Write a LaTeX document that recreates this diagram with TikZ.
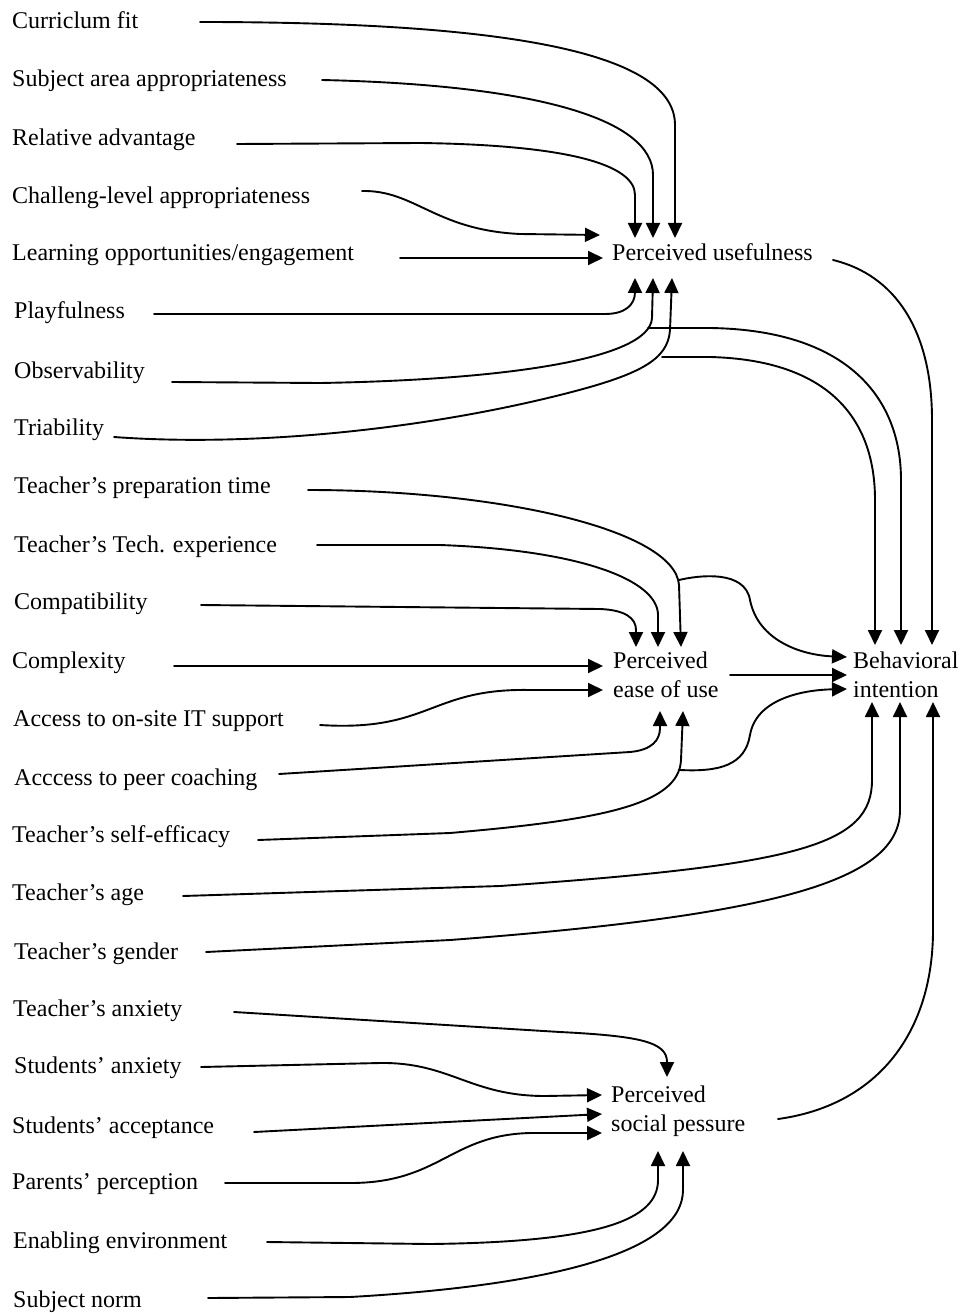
\documentclass[tikz,border=0pt]{standalone}
\usepackage{fontspec}
\setmainfont{Liberation Serif}
\usetikzlibrary{arrows.meta,calc}
\begin{document}
\begin{tikzpicture}[x=1pt,y=-1pt,
  lbl/.style={anchor=base west,inner sep=0pt,font=\fontsize{24}{29}\selectfont},
  wire/.style={line width=1.9pt,line cap=round},
  link/.style={wire,-{Triangle[length=15pt,width=14pt]}},
]
\useasboundingbox (0,0) rectangle (963,1313);

% factor labels
\node[lbl] (n1)  at (12,29)   {Curriclum fit};
\node[lbl] (n2)  at (12,87)   {Subject area appropriateness};
\node[lbl] (n3)  at (12,146)  {Relative advantage};
\node[lbl] (n4)  at (12,204)  {Challeng-level appropriateness};
\node[lbl] (n5)  at (12,261)  {Learning opportunities/engagement};
\node[lbl] (n6)  at (14,319)  {Playfulness};
\node[lbl] (n7)  at (14,378)  {Observability};
\node[lbl] (n8)  at (14,435)  {Triability};
\node[lbl] (n9)  at (14,493)  {Teacher's preparation time};
\node[lbl] (n10) at (14,552)  {Teacher's Tech. experience};
\node[lbl] (n11) at (14,609)  {Compatibility};
\node[lbl] (n12) at (12,668)  {Complexity};
\node[lbl] (n13) at (13,726)  {Access to on-site IT support};
\node[lbl] (n14) at (14,785)  {Acccess to peer coaching};
\node[lbl] (n15) at (12,842)  {Teacher's self-efficacy};
\node[lbl] (n16) at (12,900)  {Teacher's age};
\node[lbl] (n17) at (14,959)  {Teacher's gender};
\node[lbl] (n18) at (13,1016) {Teacher's anxiety};
\node[lbl] (n19) at (14,1073) {Students' anxiety};
\node[lbl] (n20) at (12,1133) {Students' acceptance};
\node[lbl] (n21) at (12,1189) {Parents' perception};
\node[lbl] (n22) at (13,1248) {Enabling environment};
\node[lbl] (n23) at (13,1307) {Subject norm};

% constructs
\node[lbl] (pu)   at (612,261)  {Perceived usefulness};
\node[lbl] (peou) at (613,668)  {\begin{tabular}[t]{@{}l@{}}Perceived\\ease of use\end{tabular}};
\node[lbl] (psp)  at (611,1102) {\begin{tabular}[t]{@{}l@{}}Perceived\\social pessure\end{tabular}};
\node[lbl] (bi)   at (853,668)  {\begin{tabular}[t]{@{}l@{}}Behavioral\\intention\end{tabular}};

% arrow ports around the constructs
\coordinate (pu-t1) at ($(pu.base west)+(23,-23)$);
\coordinate (pu-t2) at ($(pu.base west)+(41,-23)$);
\coordinate (pu-t3) at ($(pu.base west)+(63,-23)$);
\coordinate (pu-l1) at ($(pu.base west)+(-12,-26)$);
\coordinate (pu-l2) at ($(pu.base west)+(-9,-3)$);
\coordinate (pu-b1) at ($(pu.base west)+(23,17)$);
\coordinate (pu-b2) at ($(pu.base west)+(41,17)$);
\coordinate (pu-b3) at ($(pu.base west)+(60,17)$);
\coordinate (pu-r)  at ($(pu.base west)+(221,-1)$);

\coordinate (peou-t1) at ($(peou.base west)+(23,-21)$);
\coordinate (peou-t2) at ($(peou.base west)+(45,-21)$);
\coordinate (peou-t3) at ($(peou.base west)+(68,-21)$);
\coordinate (peou-l1) at ($(peou.base west)+(-10,-2)$);
\coordinate (peou-l2) at ($(peou.base west)+(-10,22)$);
\coordinate (peou-b1) at ($(peou.base west)+(47,43)$);
\coordinate (peou-b2) at ($(peou.base west)+(70,43)$);
\coordinate (peou-r)  at ($(peou.base west)+(117,7)$);

\coordinate (bi-t1) at ($(bi.base west)+(22,-23)$);
\coordinate (bi-t2) at ($(bi.base west)+(48,-23)$);
\coordinate (bi-t3) at ($(bi.base west)+(79,-23)$);
\coordinate (bi-l1) at ($(bi.base west)+(-6,-11)$);
\coordinate (bi-l2) at ($(bi.base west)+(-6,7)$);
\coordinate (bi-l3) at ($(bi.base west)+(-6,21)$);
\coordinate (bi-b1) at ($(bi.base west)+(19,34)$);
\coordinate (bi-b2) at ($(bi.base west)+(47,34)$);
\coordinate (bi-b3) at ($(bi.base west)+(80,34)$);

\coordinate (psp-t)  at ($(psp.base west)+(56,-25)$);
\coordinate (psp-l1) at ($(psp.base west)+(-9,-7)$);
\coordinate (psp-l2) at ($(psp.base west)+(-9,12)$);
\coordinate (psp-l3) at ($(psp.base west)+(-9,31)$);
\coordinate (psp-b1) at ($(psp.base west)+(47,49)$);
\coordinate (psp-b2) at ($(psp.base west)+(72,49)$);
\coordinate (psp-r)  at ($(psp.base west)+(167,17)$);

% branch points where a line splits towards behavioral intention
\coordinate (obs-j) at (648,328);
\coordinate (tri-j) at (662,357);
\coordinate (prep-j) at (679,580);
\coordinate (eff-j) at (680,770);

% into perceived usefulness
\draw[link] ($(n1.base west)+(188,-7)$) .. controls (520,22) and (675,55) .. (675,125) -- (pu-t3);
\draw[link] ($(n2.base west)+(310,-7)$) .. controls (540,85) and (653,120) .. (653,175) -- (pu-t2);
\draw[link] ($(n3.base west)+(225,-2)$) -- (420,143) .. controls (570,145) and (635,165) .. (635,195) -- (pu-t1);
\draw[link] ($(n4.base west)+(350,-13)$) .. controls (415,190) and (435,230) .. (520,234) -- (pu-l1);
\draw[link] ($(n5.base west)+(388,-3)$) -- (pu-l2);
\draw[link] ($(n6.base west)+(140,-5)$) -- (605,314) .. controls (625,314) and (635,305) .. (635,292) -- (pu-b1);
\draw[link] ($(n7.base west)+(158,4)$) -- (320,383) .. controls (500,380) and (650,360) .. (652,318) -- (pu-b2);
\draw[link] ($(n8.base west)+(100,2)$) .. controls (250,447) and (420,430) .. (560,395) .. controls (640,375) and (668,360) .. (670,330) -- (pu-b3);

% into behavioral intention from above
\draw[link] (obs-j) -- (710,328) .. controls (850,330) and (901,400) .. (901,480) -- (bi-t2);
\draw[link] (tri-j) -- (710,357) .. controls (830,360) and (875,420) .. (875,500) -- (bi-t1);
\draw[link] (pu-r) .. controls (895,275) and (932,330) .. (932,420) -- (bi-t3);

% into perceived ease of use
\draw[link] ($(n9.base west)+(294,-3)$) .. controls (500,490) and (675,530) .. (679,585) -- (peou-t3);
\draw[link] ($(n10.base west)+(303,-7)$) -- (440,545) .. controls (580,550) and (658,580) .. (658,615) -- (peou-t2);
\draw[link] ($(n11.base west)+(187,-4)$) -- (600,609) .. controls (625,610) and (636,618) .. (636,630) -- (peou-t1);
\draw[link] ($(n12.base west)+(162,-2)$) -- (peou-l1);
\draw[link] ($(n13.base west)+(307,-1)$) .. controls (430,732) and (430,688) .. (530,690) -- (peou-l2);
\draw[link] ($(n14.base west)+(265,-11)$) -- (630,752) .. controls (652,750) and (660,740) .. (660,728) -- (peou-b1);
\draw[link] ($(n15.base west)+(246,-2)$) -- (450,833) .. controls (600,820) and (679,805) .. (681,760) -- (peou-b2);

% into behavioral intention from the side
\draw[link] (prep-j) .. controls (700,575) and (745,570) .. (750,600) .. controls (758,640) and (800,655) .. (bi-l1);
\draw[link] (peou-r) -- (bi-l2);
\draw[link] (eff-j) .. controls (720,772) and (745,765) .. (750,735) .. controls (756,700) and (800,690) .. (bi-l3);

% into behavioral intention from below
\draw[link] ($(n16.base west)+(171,-4)$) -- (500,886) .. controls (800,865) and (872,845) .. (872,780) -- (bi-b1);
\draw[link] ($(n17.base west)+(192,-7)$) -- (450,940) .. controls (780,915) and (900,880) .. (900,810) -- (bi-b2);
\draw[link] (psp-r) .. controls (880,1105) and (933,1030) .. (933,930) -- (bi-b3);

% into perceived social pressure
\draw[link] ($(n18.base west)+(221,-4)$) -- (560,1032) .. controls (640,1036) and (667,1042) .. (667,1062) -- (psp-t);
\draw[link] ($(n19.base west)+(187,-6)$) -- (380,1063) .. controls (450,1062) and (470,1096) .. (545,1096) -- (psp-l1);
\draw[link] ($(n20.base west)+(242,-1)$) -- (psp-l2);
\draw[link] ($(n21.base west)+(213,-6)$) -- (350,1183) .. controls (440,1183) and (450,1135) .. (530,1133) -- (psp-l3);
\draw[link] ($(n22.base west)+(254,-6)$) -- (430,1244) .. controls (600,1242) and (658,1220) .. (658,1180) -- (psp-b1);
\draw[link] ($(n23.base west)+(195,-9)$) -- (350,1297) .. controls (560,1285) and (683,1250) .. (683,1190) -- (psp-b2);
\end{tikzpicture}
\end{document}
